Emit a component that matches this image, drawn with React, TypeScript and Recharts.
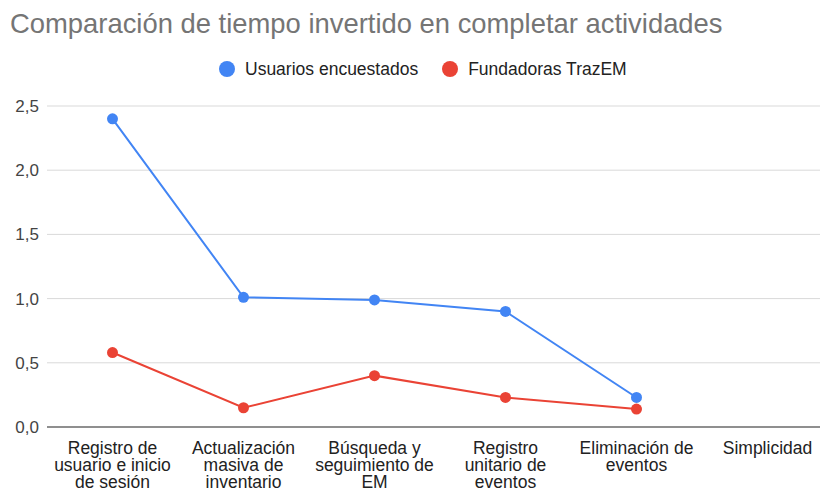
import React from 'react';
import { LineChart, Line, XAxis, YAxis, CartesianGrid } from 'recharts';

const categories = [
  'Registro de usuario e inicio de sesión',
  'Actualización masiva de inventario',
  'Búsqueda y seguimiento de EM',
  'Registro unitario de eventos',
  'Eliminación de eventos',
  'Simplicidad',
];

const usuariosEncuestados = [2.4, 1.01, 0.99, 0.9, 0.23, null];
const fundadorasTrazEM = [0.58, 0.15, 0.4, 0.23, 0.14, null];

const yTicks = [0, 0.5, 1, 1.5, 2, 2.5];

const BLUE = '#4285F4';
const RED = '#EA4335';
const FONT = '"Liberation Sans", Arial, sans-serif';

const data = categories.map((name, i) => ({
  name,
  usuarios: usuariosEncuestados[i],
  fundadoras: fundadorasTrazEM[i],
}));

// greedy wrap, Sheets breaks these labels at roughly 16 chars
function wrapLabel(text: string, maxChars = 16) {
  const words = text.split(' ');
  const lines: string[] = [];
  let cur = '';
  for (const w of words) {
    const next = cur ? cur + ' ' + w : w;
    if (next.length > maxChars && cur) {
      lines.push(cur);
      cur = w;
    } else {
      cur = next;
    }
  }
  if (cur) lines.push(cur);
  return lines;
}

const CategoryTick = (props: any) => {
  const { x, y, payload } = props;
  const lines = wrapLabel(String(payload.value));
  return (
    <text x={x} y={y} textAnchor="middle" fill="#222" fontSize={17.5} fontFamily={FONT}>
      {lines.map((l, i) => (
        <tspan key={i} x={x} dy={i === 0 ? 18.5 : 17}>
          {l}
        </tspan>
      ))}
    </text>
  );
};

const legendItems = [
  { label: 'Usuarios encuestados', color: BLUE },
  { label: 'Fundadoras TrazEM', color: RED },
];

export default function App() {
  return (
    <div
      style={{
        position: 'absolute',
        left: 0,
        top: 0,
        width: 820,
        height: 489,
        overflow: 'hidden',
        background: '#fff',
      }}
    >
      <div
        style={{
          position: 'absolute',
          left: 10,
          top: 8,
          fontFamily: FONT,
          fontSize: 27.4,
          color: '#757575',
          whiteSpace: 'nowrap',
        }}
      >
        Comparación de tiempo invertido en completar actividades
      </div>
      <div
        style={{
          position: 'absolute',
          left: 219,
          top: 59,
          height: 20,
          display: 'flex',
          alignItems: 'center',
          fontFamily: FONT,
          fontSize: 17.5,
          color: '#222',
          whiteSpace: 'nowrap',
        }}
      >
        {legendItems.map((item) => (
          <div key={item.label} style={{ display: 'flex', alignItems: 'center', marginRight: 24 }}>
            <span
              style={{
                width: 16,
                height: 16,
                borderRadius: '50%',
                background: item.color,
                display: 'inline-block',
                marginRight: 10,
              }}
            />
            <span>{item.label}</span>
          </div>
        ))}
      </div>
      <LineChart
        width={833}
        height={489}
        data={data}
        margin={{ top: 106, right: 0, bottom: 0, left: 0 }}
      >
        <CartesianGrid vertical={false} stroke="#d9d9d9" />
        <XAxis
          dataKey="name"
          interval={0}
          padding={{ left: 65.5, right: 65.5 }}
          axisLine={{ stroke: '#333' }}
          tickLine={false}
          tick={<CategoryTick />}
          height={62}
        />
        <YAxis
          width={47}
          domain={[0, 2.5]}
          ticks={yTicks}
          axisLine={false}
          tickLine={false}
          tick={{ fill: '#444', fontSize: 17, fontFamily: FONT }}
          tickFormatter={(v: number) => v.toFixed(1).replace('.', ',')}
        />
        <Line
          dataKey="usuarios"
          name="Usuarios encuestados"
          stroke={BLUE}
          strokeWidth={2}
          dot={{ r: 5.5, fill: BLUE, stroke: 'none' }}
          isAnimationActive={false}
        />
        <Line
          dataKey="fundadoras"
          name="Fundadoras TrazEM"
          stroke={RED}
          strokeWidth={2}
          dot={{ r: 5.5, fill: RED, stroke: 'none' }}
          isAnimationActive={false}
        />
      </LineChart>
    </div>
  );
}
